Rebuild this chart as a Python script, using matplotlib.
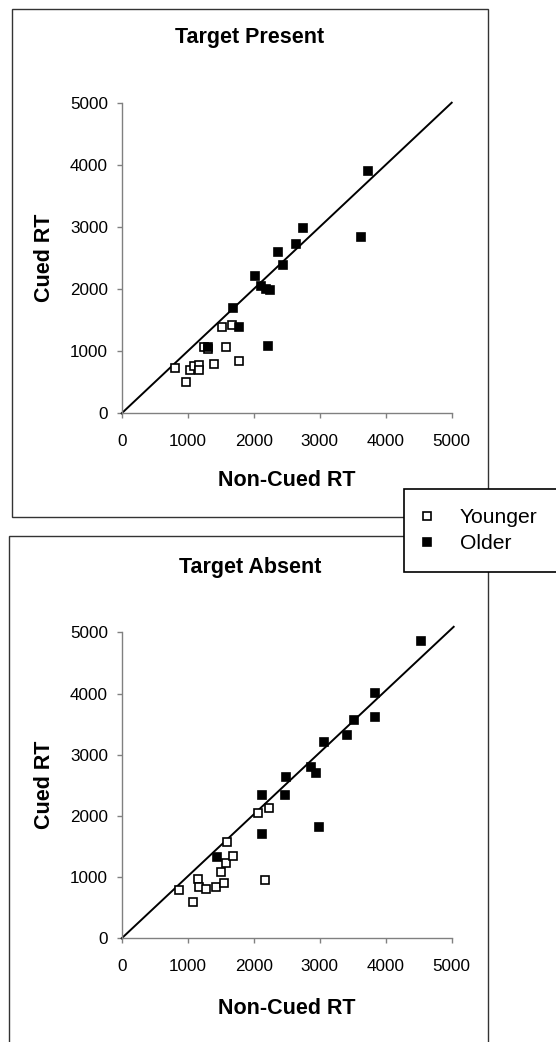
import matplotlib
matplotlib.use("Agg")
import matplotlib.pyplot as plt
from matplotlib.patches import Rectangle
from matplotlib.lines import Line2D

plt.rcParams['font.family'] = ['Liberation Sans', 'DejaVu Sans']

# ---- data ----
present_young_x = [800, 980, 1030, 1100, 1170, 1170, 1240, 1300, 1400, 1520, 1575, 1665, 1770]
present_young_y = [725, 510, 700, 755, 780, 690, 1060, 1030, 790, 1395, 1060, 1420, 840]
present_old_x = [1300, 1680, 1780, 2210, 2020, 2110, 2180, 2250, 2370, 2440, 2640, 2740, 3630, 3730]
present_old_y = [1075, 1690, 1390, 1085, 2210, 2050, 2000, 1990, 2595, 2380, 2730, 2980, 2835, 3905]

absent_young_x = [875, 1080, 1155, 1170, 1280, 1425, 1550, 1500, 1575, 1680, 1600, 2070, 2225, 2175]
absent_young_y = [790, 590, 965, 835, 805, 845, 900, 1090, 1235, 1345, 1570, 2040, 2125, 955]
absent_old_x = [1450, 2125, 2120, 2470, 2490, 2865, 2940, 3070, 3410, 3520, 3840, 3840, 2990, 4540]
absent_old_y = [1335, 1705, 2340, 2340, 2630, 2805, 2705, 3210, 3320, 3565, 4015, 3620, 1825, 4860]

diag = [0, 5000]
ticks = [0, 1000, 2000, 3000, 4000, 5000]
titles = ["Target Present", "Target Absent"]
xlabel = "Non-Cued RT"
ylabel = "Cued RT"
legend_labels = ["Younger", "Older"]

W, H = 556, 1042
fig = plt.figure(figsize=(W / 100, H / 100), dpi=100)

def fx(px):
    return px / W

def fy(py):
    return 1 - py / H

MS = 5.6

# panel frames
fig.add_artist(Rectangle((fx(11.7), fy(516.7)), fx(488) - fx(11.7), fy(9.3) - fy(516.7),
                         transform=fig.transFigure, fill=False, ec='#333333', lw=1.0, zorder=1))
fig.add_artist(Rectangle((fx(9.3), fy(1060)), fx(488) - fx(9.3), fy(536) - fy(1060),
                         transform=fig.transFigure, fill=False, ec='#333333', lw=1.0, zorder=1))

panels = [
    dict(rect=[fx(121.7), fy(413.3), fx(451.7) - fx(121.7), fy(102.7) - fy(413.3)],
         yx=present_young_x, yy=present_young_y, ox=present_old_x, oy=present_old_y,
         title=titles[0], title_y=37, xlab_y=480, diag_end=(5000, 5000)),
    dict(rect=[fx(121.7), fy(938.3), fx(451.7) - fx(121.7), fy(632.3) - fy(938.3)],
         yx=absent_young_x, yy=absent_young_y, ox=absent_old_x, oy=absent_old_y,
         title=titles[1], title_y=567, xlab_y=1008, diag_end=(5030, 5090)),
]

for p in panels:
    ax = fig.add_axes(p['rect'])
    ax.set_xlim(0, 5000)
    ax.set_ylim(0, 5000)
    ax.patch.set_alpha(0)
    for s in ['top', 'right']:
        ax.spines[s].set_visible(False)
    for s in ['left', 'bottom']:
        ax.spines[s].set_color('#808080')
        ax.spines[s].set_linewidth(1.0)
    ax.set_xticks(ticks)
    ax.set_yticks(ticks)
    ax.tick_params(axis='both', direction='out', length=3.8, width=1.0, color='#808080',
                   labelsize=12.3, labelcolor='black')
    ax.tick_params(axis='x', pad=11)
    ax.tick_params(axis='y', pad=6)
    ax.plot([diag[0], p['diag_end'][0]], [diag[0], p['diag_end'][1]], color='black', lw=1.4,
            zorder=2, clip_on=False)
    ax.plot(p['yx'], p['yy'], linestyle='none', marker='s', markersize=MS,
            markerfacecolor='white', markeredgecolor='black', markeredgewidth=1.2,
            zorder=3, clip_on=False)
    ax.plot(p['ox'], p['oy'], linestyle='none', marker='s', markersize=MS,
            markerfacecolor='black', markeredgecolor='black', markeredgewidth=1.2,
            zorder=4, clip_on=False)
    # axis labels
    fig.text(fx(286.7), fy(p['xlab_y']), xlabel, ha='center', va='center',
             fontsize=15.5, fontweight='bold')
    cy = (p['rect'][1] + p['rect'][3] / 2)
    fig.text(fx(45), cy, ylabel, ha='center', va='center', rotation=90,
             fontsize=15.5, fontweight='bold')
    fig.text(fx(250), fy(p['title_y']), p['title'], ha='center', va='center',
             fontsize=15.5, fontweight='bold')

handles = [
    Line2D([], [], linestyle='none', marker='s', markersize=5.2, markerfacecolor='white',
           markeredgecolor='black', markeredgewidth=1.2),
    Line2D([], [], linestyle='none', marker='s', markersize=5.2, markerfacecolor='black',
           markeredgecolor='black', markeredgewidth=1.2),
]
leg = fig.legend(handles, legend_labels, loc='upper left',
                 bbox_to_anchor=(fx(404), fy(570.7), fx(620) - fx(404), fy(489) - fy(570.7)),
                 mode='expand', borderaxespad=0, fancybox=False, framealpha=1,
                 edgecolor='black', fontsize=15.2, borderpad=0.9, labelspacing=0.33,
                 handlelength=0.4, handletextpad=1.35)
leg.get_frame().set_linewidth(1.2)
leg.set_zorder(10)

fig.savefig('out.png', dpi=100)
